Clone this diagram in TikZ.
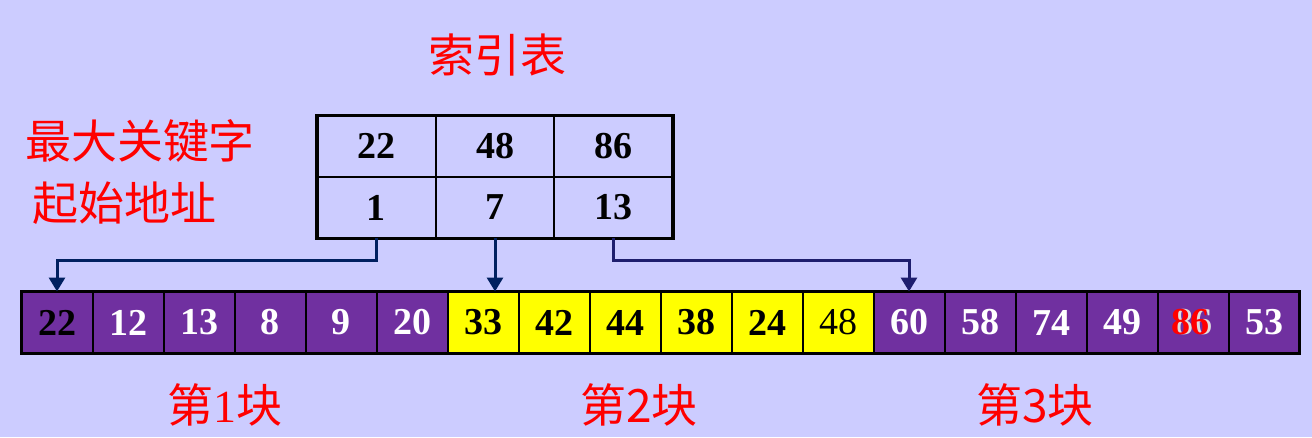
\documentclass[tikz,border=0pt]{standalone}
\usepackage{fontspec}
\setmainfont{Liberation Serif}
\newfontfamily\cjk{Noto Sans CJK SC}
\usepackage{tikz}
\usetikzlibrary{positioning,arrows.meta}
\definecolor{pagelilac}{RGB}{204,204,255}
\definecolor{blockpurple}{RGB}{112,48,160}
\definecolor{blockyellow}{RGB}{255,255,0}
\definecolor{linknavy}{RGB}{0,32,96}
\definecolor{linkmidnight}{RGB}{30,30,110}
\tikzset{
  keycell/.style={draw, line width=2pt, outer sep=0pt, inner sep=0pt,
    minimum width=118.7pt, minimum height=61.5pt,
    font=\fontsize{38}{40}\selectfont\bfseries},
  blockcell/.style={draw, line width=2pt, outer sep=0pt, inner sep=0pt,
    minimum width=71pt, minimum height=62pt, fill=blockpurple, text=white,
    font=\fontsize{38}{40}\selectfont\bfseries},
  yellowcell/.style={blockcell, fill=blockyellow, text=black},
  redtitle/.style={text=red, font=\cjk\fontsize{46}{50}\selectfont},
  pointer/.style={line width=3pt, -{Triangle[length=14pt,width=16pt]}},
}

\begin{document}
\begin{tikzpicture}[x=1pt,y=-1pt]
    % Background
    \fill[pagelilac] (0,0) rectangle (1312,437);
    \useasboundingbox (0,0) rectangle (1312,437);

    % Titles
    \node[redtitle] (title) at (497,55) {索引表};
    \node[redtitle] (keyname) at (140,141) {最大关键字};
    \node[redtitle] (addrname) at (124,203) {起始地址};

    % Index table
    \node[keycell] (k22) at (376.3,146) {22};
    \node[keycell, right=0pt of k22] (k48) {48};
    \node[keycell, right=0pt of k48] (k86) {86};
    \node[keycell, below=0pt of k22] (a1) {1};
    \node[keycell, right=0pt of a1] (a7) {7};
    \node[keycell, right=0pt of a7] (a13) {13};
    \draw[line width=3.5pt] (k22.north west) rectangle (a13.south east);

    % Block 1
    \node[blockcell, text=black] (c1) at (57,322.5) {22};
    \node[blockcell, right=0pt of c1] (c2) {12};
    \node[blockcell, right=0pt of c2] (c3) {13};
    \node[blockcell, right=0pt of c3] (c4) {8};
    \node[blockcell, right=0pt of c4] (c5) {9};
    \node[blockcell, right=0pt of c5] (c6) {20};
    % Block 2
    \node[yellowcell, right=0pt of c6] (c7) {33};
    \node[yellowcell, right=0pt of c7] (c8) {42};
    \node[yellowcell, right=0pt of c8] (c9) {44};
    \node[yellowcell, right=0pt of c9] (c10) {38};
    \node[yellowcell, right=0pt of c10] (c11) {24};
    \node[yellowcell, right=0pt of c11, font=\fontsize{38}{40}\selectfont] (c12) {48};
    % Block 3
    \node[blockcell, right=0pt of c12] (c13) {60};
    \node[blockcell, right=0pt of c13] (c14) {58};
    \node[blockcell, right=0pt of c14] (c15) {74};
    \node[blockcell, right=0pt of c15] (c16) {49};
    \node[blockcell, right=0pt of c16, text=gray!25] (c17) {86};
    \node[text=red, inner sep=0pt, font=\fontsize{38}{40}\selectfont\bfseries]
        (red86) at ([xshift=-2.5pt]c17.center) {86};
    \node[blockcell, right=0pt of c17] (c18) {53};
    \draw[line width=3.5pt] (c1.north west) rectangle (c18.south east);

    % Pointers from start addresses
    \draw[pointer, linknavy] (a1.south) -- ++(0,22) -| (c1.north);
    \draw[pointer, linknavy] (a7.south) -- (a7.south |- c1.north);
    \draw[pointer, linkmidnight] (a13.south) -- ++(0,22) -| (c13.north);

    % Block names
    \node[redtitle] (blk1) at (225,405) {第{\rmfamily 1}块};
    \node[redtitle] (blk2) at (639,405) {第2块};
    \node[redtitle] (blk3) at (1035,405) {第3块};
\end{tikzpicture}
\end{document}
